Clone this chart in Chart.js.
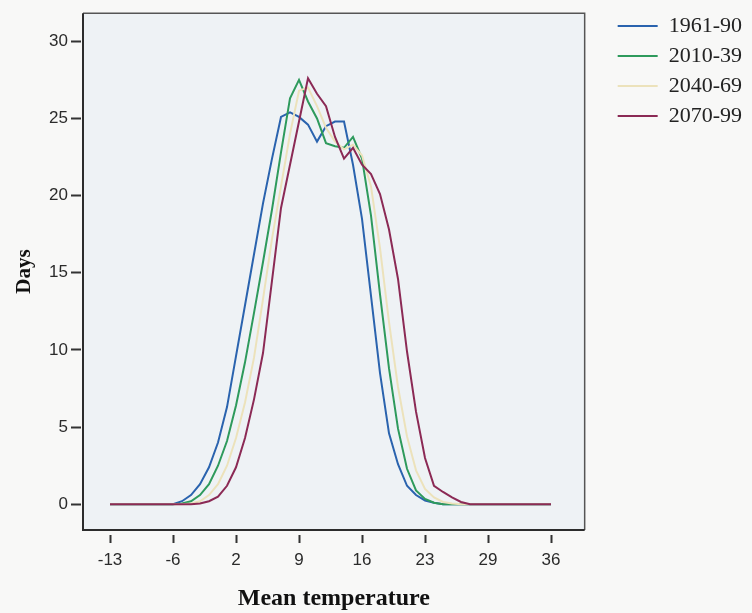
<!DOCTYPE html>
<html><head><meta charset="utf-8">
<script src="https://cdn.jsdelivr.net/npm/chart.js@4/dist/chart.umd.min.js"></script>
<style>html,body{margin:0;padding:0;background:#f8f8f7;overflow:hidden}</style>
</head><body>
<canvas id="c" width="752" height="613"></canvas>
<script>
// Category index of each temperature bin (one bin per degree, -13 ... 36)
const categories = [0,1,2,3,4,5,6,7,8,9,10,11,12,13,14,15,16,17,18,19,20,21,22,23,24,25,26,27,28,29,30,31,32,33,34,35,36,37,38,39,40,41,42,43,44,45,46,47,48,49];
// Tick labels on the x axis and the categories they sit on
const xTickLabels = ['-13','-6','2','9','16','23','29','36'];
const xTickCategories = [0,7,14,21,28,35,42,49];
const yTickValues = [0,5,10,15,20,25,30];

const seriesNames = ['1961-90','2010-39','2040-69','2070-99'];
const days1961 = [0,0,0,0,0,0,0,0,0.2,0.6,1.3,2.4,4.0,6.3,9.6,12.9,16.2,19.5,22.4,25.1,25.4,25.1,24.6,23.5,24.5,24.8,24.8,22.0,18.5,13.5,8.5,4.6,2.6,1.2,0.6,0.25,0.1,0,0,0,0,0,0,0,0,0,0,0,0,0];
const days2010 = [0,0,0,0,0,0,0,0,0.05,0.2,0.6,1.3,2.5,4.1,6.4,9.2,12.4,15.7,19.1,22.8,26.3,27.5,26.1,25.0,23.4,23.2,23.1,23.8,22.4,18.7,13.6,8.8,4.9,2.3,0.9,0.35,0.1,0,0,0,0,0,0,0,0,0,0,0,0,0];
const days2040 = [0,0,0,0,0,0,0,0,0,0.05,0.2,0.6,1.3,2.5,4.3,6.6,9.5,13.3,17.2,20.6,24.0,26.8,27.0,25.8,24.4,23.5,23.0,23.3,22.6,20.6,16.6,11.8,7.6,4.4,2.2,1.0,0.45,0.15,0.05,0,0,0,0,0,0,0,0,0,0,0];
const days2070 = [0,0,0,0,0,0,0,0,0,0,0.05,0.2,0.5,1.2,2.4,4.3,6.8,9.8,14.5,19.2,22.0,24.8,27.6,26.6,25.8,23.8,22.4,23.1,22.0,21.4,20.1,17.8,14.6,9.9,6.0,3.0,1.2,0.8,0.45,0.15,0,0,0,0,0,0,0,0,0,0];
const seriesColors = ['#2a63ae','#2e9a5c','#ece2bb','#8b2a55'];

const pageBg = '#f8f8f7';
const plotBg = '#eef2f5';

const framePlugin = {
  id: 'frame',
  beforeDraw(chart) {
    const {ctx, chartArea: a, width, height} = chart;
    ctx.save();
    ctx.fillStyle = pageBg;
    ctx.fillRect(0, 0, width, height);
    ctx.fillStyle = plotBg;
    ctx.fillRect(a.left, a.top, a.right - a.left, a.bottom - a.top);
    ctx.restore();
  },
  afterDatasetsDraw(chart) {
    const {ctx, chartArea: a} = chart;
    ctx.save();
    ctx.strokeStyle = '#555';
    ctx.lineWidth = 1.5;
    ctx.beginPath();
    ctx.moveTo(a.left, a.top); ctx.lineTo(a.right, a.top); ctx.lineTo(a.right, a.bottom);
    ctx.stroke();
    ctx.strokeStyle = '#2c2c2c';
    ctx.lineWidth = 2;
    ctx.beginPath();
    ctx.moveTo(a.left, a.top); ctx.lineTo(a.left, a.bottom); ctx.lineTo(a.right, a.bottom);
    ctx.stroke();
    ctx.restore();
  }
};

const seriesData = [days1961, days2010, days2040, days2070];
const datasets = seriesNames.map((name, k) => ({
  label: name,
  data: seriesData[k],
  borderColor: seriesColors[k],
  backgroundColor: seriesColors[k],
  borderWidth: 2,
  pointRadius: 0,
  tension: 0,
  fill: false
})).reverse();

const tickFont = {family: 'Liberation Sans', size: 17};
const titleFont = {family: 'Liberation Serif', size: 24, weight: 'bold'};

new Chart(document.getElementById('c'), {
  type: 'line',
  data: {labels: categories, datasets},
  options: {
    responsive: false,
    animation: false,
    devicePixelRatio: 1,
    layout: {padding: {top: 7, left: 0, right: 0, bottom: 0}},
    plugins: {
      tooltip: {enabled: false},
      legend: {
        position: 'right',
        align: 'start',
        reverse: true,
        maxWidth: 220,
        labels: {
          usePointStyle: true,
          pointStyle: 'line',
          pointStyleWidth: 40,
          padding: 8,
          color: '#222',
          font: {family: 'Liberation Serif', size: 22}
        }
      }
    },
    scales: {
      x: {
        type: 'linear',
        min: -3.0,
        max: 52.74,
        afterBuildTicks: s => { s.ticks = xTickCategories.map(v => ({value: v})); },
        afterFit: s => { s.height = 83; },
        grid: {drawOnChartArea: false, drawTicks: true, tickLength: 13, tickColor: '#333', tickWidth: 2, tickBorderDash: [0, 5, 8, 100]},
        border: {display: false},
        ticks: {
          autoSkip: false, maxRotation: 0, padding: 7, color: '#2b2b2b', font: tickFont,
          callback: (v, i) => xTickLabels[i]
        },
        title: {display: true, text: 'Mean temperature', color: '#111', font: titleFont, padding: {top: 0, bottom: 0}}
      },
      y: {
        type: 'linear',
        min: -1.665,
        max: 31.82,
        afterBuildTicks: s => { s.ticks = yTickValues.map(v => ({value: v})); },
        afterFit: s => { s.width = 83; },
        grid: {drawOnChartArea: false, drawTicks: true, tickLength: 12, tickColor: '#333', tickWidth: 2, tickBorderDash: [10, 100]},
        border: {display: false},
        ticks: {padding: 3, color: '#2b2b2b', font: tickFont},
        title: {display: true, text: 'Days', color: '#111', font: {family: 'Liberation Serif', size: 21, weight: 'bold'}, padding: {top: 12, bottom: 0}}
      },
      yR: {
        type: 'linear',
        position: 'right',
        display: true,
        min: 0, max: 1,
        afterFit: s => { s.width = 25; },
        grid: {display: false},
        border: {display: false},
        ticks: {display: false}
      }
    }
  },
  plugins: [framePlugin]
});
</script>
</body></html>
